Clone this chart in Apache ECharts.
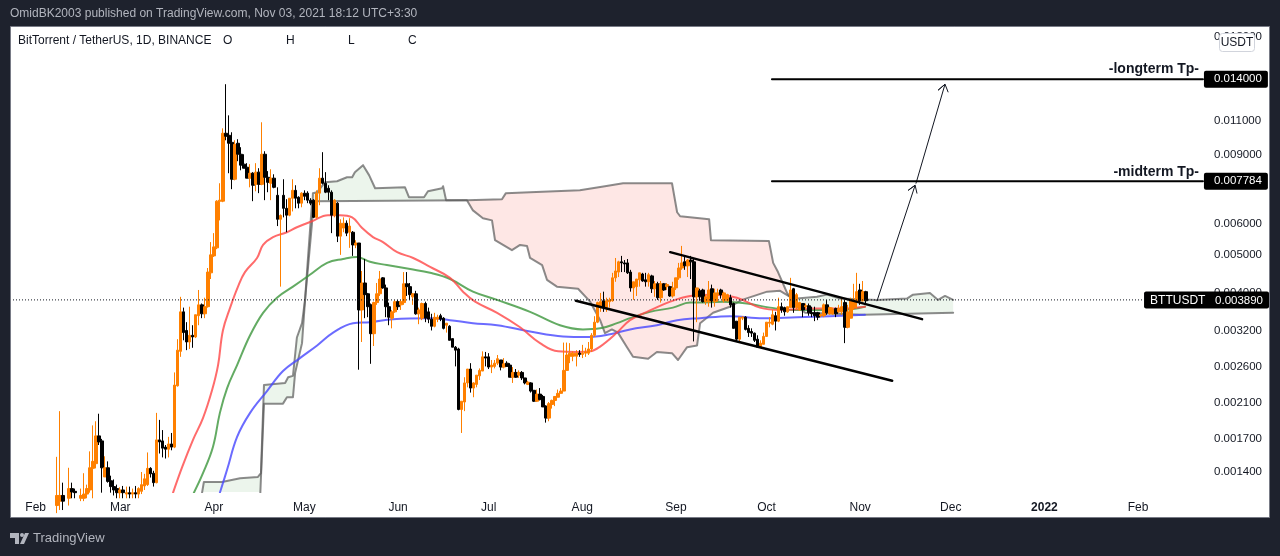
<!DOCTYPE html>
<html>
<head>
<meta charset="utf-8">
<title>BTTUSDT</title>
<script src="https://cdn.jsdelivr.net/npm/echarts@6/dist/echarts.min.js"></script>
<style>
  html, body { margin: 0; padding: 0; background: #1e222d; }
  #main { width: 1280px; height: 556px; }
</style>
</head>
<body>
<div id="main"></div>
<script>
// all prices below are in thousandths of a USDT (5.14 = 0.005140)
var firstCandle = 14; // candles start on 8 Feb 2021, category index 14
var opens = [
  1.15,1.18,1.22,1.18,1.2,1.27,1.25,1.2,1.2,1.2,
  1.23,1.26,1.43,1.47,1.73,1.68,1.36,1.435,1.33,1.285,
  1.27,1.24,1.26,1.23,1.24,1.23,1.24,1.23,1.25,1.29,
  1.30,1.43,1.39,1.315,1.69,1.68,1.62,1.60,1.65,1.62,
  2.32,2.84,3.58,3.21,3.00,3.12,3.09,3.50,3.73,3.54,
  3.69,4.50,4.97,5.21,6.85,6.85,10.2,10.08,9.67,7.79,
  9.62,9.02,8.51,8.36,7.84,8.07,7.56,8.12,7.56,9.02,
  7.88,7.61,7.84,7.09,6.16,7.09,6.57,6.31,6.97,7.30,
  7.01,6.77,7.18,7.18,6.89,6.89,6.23,7.18,7.84,7.61,
  7.39,7.22,6.31,6.77,5.58,5.85,6.02,5.71,5.71,5.30,
  5.36,3.62,4.24,3.98,3.73,3.15,3.78,3.98,4.37,4.12,
  3.69,3.45,3.58,3.80,3.73,3.78,4.22,4.15,3.91,3.98,
  3.54,3.45,3.76,3.58,3.43,3.29,3.43,3.50,3.45,3.31,
  3.29,3.06,2.91,2.88,2.02,2.11,2.36,2.56,2.29,2.34,
  2.46,2.53,2.75,2.75,2.59,2.60,2.65,2.70,2.59,2.65,
  2.62,2.44,2.51,2.47,2.51,2.43,2.34,2.36,2.26,2.12,
  2.21,2.18,2.06,1.92,2.08,2.13,2.17,2.22,2.25,2.54,
  2.76,2.76,2.76,2.81,2.79,2.81,2.81,2.88,3.12,3.37,
  3.67,3.82,3.67,3.80,3.82,4.37,4.52,4.80,4.77,4.77,
  4.52,4.12,4.15,4.32,4.47,4.32,4.27,4.42,4.10,4.22,
  3.89,4.22,4.15,4.15,3.93,4.12,4.37,4.63,4.80,4.69,
  4.85,4.80,3.91,4.05,4.07,3.80,3.80,4.10,3.80,3.96,
  4.07,3.82,3.82,3.89,3.76,3.39,3.05,3.45,3.47,3.25,
  3.19,3.16,3.05,2.91,2.96,3.10,3.35,3.33,3.50,3.39,
  3.69,3.67,3.58,3.67,4.10,3.67,3.62,3.76,3.69,3.71,
  3.56,3.56,3.56,3.50,3.50,3.73,3.54,3.54,3.65,3.58,
  3.58,3.78,3.27,3.45,3.67,3.80,4.07,3.82,4.03
];
var closes = [
  1.22,1.22,1.18,1.2,1.27,1.245,1.24,1.21,1.22,1.23,
  1.27,1.435,1.49,1.73,1.67,1.435,1.435,1.325,1.285,1.26,
  1.24,1.26,1.24,1.24,1.23,1.24,1.23,1.27,1.30,1.345,
  1.43,1.385,1.315,1.69,1.67,1.61,1.60,1.65,1.62,2.33,
  2.86,3.58,3.17,3.00,3.12,3.09,3.52,3.73,3.54,3.69,
  4.52,5.00,5.24,6.85,6.89,10.2,10.02,9.62,7.79,9.56,
  9.02,8.46,8.31,7.84,8.07,7.52,8.12,7.56,9.02,7.88,
  7.65,7.84,7.43,6.16,6.30,6.57,6.31,6.97,7.30,6.97,
  6.77,7.18,7.05,6.89,6.77,6.23,7.18,7.84,7.61,7.22,
  7.22,6.31,6.89,5.58,6.02,6.02,5.68,5.92,5.30,5.36,
  3.62,4.24,3.96,3.69,3.15,3.78,3.98,4.34,4.12,3.69,
  3.47,3.58,3.80,3.69,3.80,4.22,4.15,3.96,3.98,3.54,
  3.62,3.76,3.45,3.43,3.29,3.47,3.47,3.43,3.25,3.35,
  3.03,2.91,2.86,2.02,2.12,2.36,2.56,2.29,2.36,2.47,
  2.54,2.75,2.73,2.59,2.62,2.65,2.72,2.59,2.64,2.60,
  2.44,2.51,2.44,2.51,2.43,2.36,2.37,2.25,2.12,2.21,
  2.14,2.05,1.92,2.09,2.13,2.18,2.22,2.25,2.54,2.78,
  2.81,2.81,2.81,2.79,2.81,2.83,2.88,3.12,3.37,3.78,
  3.80,3.67,3.82,3.84,4.37,4.55,4.80,4.77,4.74,4.50,
  4.12,4.27,4.34,4.50,4.29,4.27,4.45,4.10,4.22,3.89,
  4.22,4.07,4.20,3.93,4.12,4.37,4.63,4.77,4.69,4.85,
  4.80,3.91,4.12,3.91,3.80,3.91,4.07,3.82,4.00,4.00,
  3.96,4.00,3.96,3.73,3.25,3.05,3.47,3.47,3.23,3.17,
  3.16,3.03,2.91,2.98,3.10,3.37,3.37,3.52,3.39,3.69,
  3.62,3.58,3.69,4.07,3.67,3.96,3.78,3.62,3.71,3.56,
  3.54,3.50,3.47,3.52,3.73,3.56,3.67,3.62,3.54,3.65,
  3.69,3.27,3.58,3.82,3.84,4.03,3.82,4.03,3.82
];
var lows = [
  1.10,1.12,1.12,1.14,1.15,1.2,1.2,1.15,1.18,1.18,
  1.2,1.24,1.2,1.43,1.64,1.24,1.36,1.315,1.24,1.22,
  1.2,1.2,1.2,1.2,1.2,1.2,1.2,1.2,1.23,1.26,
  1.29,1.355,1.285,1.31,1.56,1.525,1.515,1.525,1.59,1.61,
  2.31,2.75,3.03,2.86,2.88,2.90,3.07,3.31,3.45,3.45,
  3.67,4.34,4.94,5.17,6.12,6.81,9.79,8.07,7.35,7.74,
  8.66,8.21,8.31,7.84,7.43,6.85,7.26,7.18,7.52,6.89,
  7.22,6.89,7.39,5.92,4.15,6.23,5.71,6.27,6.45,6.57,
  6.57,6.61,6.89,6.77,6.69,6.2,6.2,6.69,7.56,7.18,
  6.89,5.68,6.23,5.39,5.00,5.71,5.58,5.21,4.97,5.20,
  2.55,3.00,3.45,3.47,2.64,2.93,3.73,3.93,4.10,3.47,
  3.31,3.25,3.56,3.62,3.62,3.73,3.93,3.84,3.73,3.52,
  3.33,3.41,3.37,3.35,3.21,3.27,3.37,3.39,3.23,3.17,
  3.03,2.91,2.60,2.01,1.76,2.00,2.30,2.23,2.17,2.30,
  2.40,2.53,2.60,2.56,2.50,2.57,2.62,2.54,2.57,2.60,
  2.44,2.36,2.43,2.43,2.40,2.34,2.33,2.23,2.11,2.11,
  2.13,2.05,1.87,1.885,2.03,2.06,2.17,2.22,2.25,2.54,
  2.65,2.68,2.60,2.75,2.73,2.75,2.78,2.83,3.09,3.35,
  3.58,3.58,3.58,3.67,3.80,4.27,4.39,4.52,4.52,4.47,
  4.03,3.84,3.93,4.15,4.27,4.15,4.15,4.00,3.91,3.84,
  3.78,4.05,4.07,3.91,3.89,4.07,4.32,4.58,4.58,4.39,
  4.34,3.01,3.37,3.82,3.78,3.73,3.69,3.67,3.69,3.80,
  3.87,3.78,3.80,3.67,3.25,3.00,3.00,3.41,3.21,3.09,
  3.09,3.00,2.90,2.90,2.96,3.09,3.27,3.31,3.21,3.37,
  3.56,3.50,3.56,3.67,3.56,3.62,3.60,3.47,3.65,3.50,
  3.47,3.39,3.41,3.47,3.47,3.52,3.52,3.52,3.47,3.56,
  3.52,2.98,3.25,3.45,3.62,3.65,3.73,3.80,3.76
];
var highs = [
  1.53,2.00,1.315,1.22,1.435,1.315,1.27,1.23,1.27,1.39,
  1.30,1.58,1.84,1.885,1.97,1.70,1.535,1.49,1.37,1.34,
  1.30,1.28,1.29,1.285,1.285,1.27,1.29,1.28,1.40,1.385,
  1.57,1.44,1.41,1.98,1.90,1.79,1.64,1.72,1.76,2.51,
  3.05,3.91,3.67,3.37,3.69,3.31,3.52,4.07,3.76,3.89,
  4.63,5.39,5.68,6.89,7.61,10.5,13.6,11.33,10.26,9.79,
  9.85,9.40,9.02,8.56,8.51,8.12,8.56,8.31,10.88,9.18,
  8.17,8.26,8.02,7.43,6.34,7.79,6.93,6.97,7.79,7.52,
  7.05,7.22,7.30,7.26,6.97,6.93,7.30,8.31,9.13,8.12,
  7.52,7.30,6.93,6.81,6.16,6.23,6.12,6.2,5.75,5.45,
  5.36,4.55,4.88,4.00,3.76,3.80,4.24,4.55,4.39,4.20,
  3.78,3.62,3.84,3.84,3.84,4.52,4.52,4.24,4.00,4.05,
  3.67,3.78,3.80,3.67,3.54,3.56,3.52,3.54,3.47,3.35,
  3.31,3.06,2.93,2.90,2.12,2.44,2.56,2.65,2.37,2.47,
  2.57,2.84,2.83,2.81,2.70,2.70,2.78,2.70,2.73,2.68,
  2.65,2.59,2.56,2.54,2.53,2.43,2.39,2.37,2.26,2.27,
  2.29,2.20,2.07,2.11,2.14,2.18,2.27,2.29,2.99,2.99,
  2.98,2.84,2.86,2.86,2.95,2.90,3.00,3.16,3.49,3.80,
  4.00,4.03,3.89,3.89,4.50,4.91,4.83,4.97,4.85,4.88,
  4.58,4.27,4.34,4.50,4.50,4.50,4.50,4.45,4.29,4.27,
  4.29,4.24,4.24,4.17,4.27,4.37,4.77,5.27,4.97,4.88,
  4.97,4.88,4.12,4.10,4.10,3.96,4.29,4.20,4.10,4.10,
  4.10,4.03,3.98,3.96,3.78,3.39,3.47,3.49,3.49,3.31,
  3.25,3.17,3.12,3.03,3.17,3.37,3.47,3.62,3.58,3.89,
  3.78,3.69,3.69,4.37,4.12,4.00,3.80,3.76,3.76,3.76,
  3.69,3.69,3.58,3.54,3.76,3.84,3.69,3.67,3.67,3.73,
  3.89,3.84,3.73,3.89,4.22,4.50,4.22,4.29,4.05
];

// moving averages: [day index, price]
var maRed = [[52.5,1.24],[55.5,1.44],[59.1,1.69],[62.4,1.92],[65.4,2.26],[67.4,2.62],[69,3.21],[71.4,3.67],[74,4.15],[76.3,4.52],[80.3,4.91],[82.3,5.30],[85.6,5.55],[90.2,5.71],[93.5,5.88],[98.5,6.09],[103.8,6.31],[107.8,6.31],[111.8,6.23],[115.1,5.85],[118.7,5.55],[122,5.39],[126.7,5.08],[132,4.91],[137.6,4.66],[144.2,4.37],[148.5,4.03],[152.5,3.80],[159.8,3.56],[167.4,3.27],[174,2.98],[180,2.84],[186.3,2.83],[190.6,2.84],[193.9,2.92],[199.5,3.17],[203.8,3.41],[209.4,3.58],[217.1,3.80],[223.7,3.93],[231.3,3.96],[239.2,3.89],[246.8,3.67],[253.5,3.62],[264.4,3.65],[273.3,3.65],[281.6,3.69]];
var maGreen = [[59.4,1.24],[62.4,1.39],[65.7,1.62],[68,1.98],[70.4,2.29],[73.7,2.62],[78,3.12],[82.3,3.56],[86.9,3.89],[92.2,4.15],[97.8,4.45],[103.5,4.77],[108.8,4.88],[113.4,4.94],[117.7,4.80],[123.3,4.71],[131,4.60],[137.6,4.50],[144.2,4.34],[151.8,4.03],[159.8,3.84],[170.7,3.58],[180.6,3.31],[188.2,3.23],[193.9,3.25],[199.5,3.35],[203.8,3.45],[210.4,3.58],[218,3.67],[223.7,3.78],[226,3.78],[234.6,3.80],[242.5,3.76],[250.2,3.67],[257.8,3.62],[266.7,3.62],[273.3,3.62],[281.6,3.69]];
var maBlue = [[68,1.24],[70.4,1.42],[73.7,1.72],[78,1.98],[83.6,2.25],[88.9,2.53],[94.5,2.73],[100.2,2.94],[105.5,3.17],[112.1,3.35],[117.7,3.37],[125.3,3.43],[137.6,3.45],[144.2,3.41],[151.8,3.35],[159.8,3.31],[170.7,3.19],[181.6,3.10],[189.6,3.09],[197.2,3.14],[203.8,3.23],[212.7,3.31],[219.4,3.41],[227,3.45],[236.9,3.49],[247.8,3.45],[259.1,3.47],[270,3.49],[281.6,3.52]];

// ichimoku cloud spans: [day index, price]
var spanA = [[62.1,1.24],[62.7,1.32],[68.7,1.32],[74.7,1.35],[80.6,1.36],[81.6,1.39],[82.6,2.33],[89.6,2.36],[90.6,2.44],[92.2,2.46],[93.5,3.08],[95.2,3.35],[96.2,3.84],[97.2,4.66],[98.5,6.02],[98.8,7.18],[100.2,7.22],[102.8,7.65],[106.8,7.70],[110.1,7.88],[111.8,7.88],[112.7,8.12],[115.4,8.46],[117.4,7.98],[119.4,7.39],[129.3,7.43],[130.6,7.01],[135.6,7.01],[136.9,7.26],[141.6,7.39],[141.9,7.48],[142.9,6.89],[149.8,6.89],[150.2,6.81],[151.8,6.49],[155.1,6.20],[158.1,6.12],[159.1,5.45],[164.7,5.14],[167.4,5.30],[169.7,5.27],[170.7,4.91],[174.7,4.71],[176.3,4.32],[179.6,4.15],[186.6,4.10],[190.6,3.80],[193.9,3.41],[195.5,3.16],[197.8,3.23],[199.8,3.17],[202.8,2.91],[204.8,2.75],[209.8,2.72],[212.7,2.83],[217.7,2.81],[219.7,2.70],[222.7,2.91],[226,2.94],[227,3.35],[231.3,3.56],[236.9,3.69],[240.9,3.84],[249.2,4.03],[253.5,4.05],[256.8,3.91],[259.1,3.87],[265.7,3.91],[269,3.96],[273.3,3.87],[285.6,3.84],[295.5,3.87],[297.5,3.96],[303.1,4.00],[305.8,3.84],[308.1,3.93],[310.8,3.84]];
var spanB = [[62.1,1.19],[81.3,1.19],[82.6,2.09],[88.9,2.09],[90.2,2.17],[92.2,2.17],[92.9,2.50],[95.2,2.98],[96.2,3.84],[97.2,4.94],[98.5,6.77],[99.5,6.85],[149.8,6.89],[161.4,6.93],[162.7,7.18],[170.7,7.22],[187.2,7.30],[195.5,7.48],[201.5,7.61],[217.7,7.61],[219.4,6.42],[220.4,6.27],[230,6.16],[230.6,5.45],[249.8,5.42],[251.2,4.77],[252.8,4.52],[255.8,4.00],[256.8,3.91],[259.1,3.69],[261.8,3.56],[281,3.52],[310.8,3.56]];
var cloudCrossings = [62.1, 149.8, 256.8, 310.8];

// drawings on the chart
var upperTrend = [[217.1,5.08],[300.5,3.43]];
var lowerTrend = [[185.9,3.82],[290.6,2.39]];
var arrowOne = [[285.6,3.82],[298.2,7.52],[295.9,7.30],[298.2,7.52],[298.8,7.18]];
var arrowTwo = [[298.5,7.61],[308.1,13.6],[305.8,13.13],[308.1,13.6],[309.1,13.0]];
var longTarget = [[250.8,14.0],[393.5,14.0]];
var midTarget = [[250.8,7.70],[393.5,7.70]];
var lastPriceLine = [[-0.5,3.84],[374,3.84]];

var yTicks = [18, 11, 9, 7.5, 6, 5, 4, 3.2, 2.6, 2.1, 1.7, 1.4];

// one category per day, 25 Jan 2021 to 25 Feb 2022
var categories = [];
for (var d = 0; d < 397; d++) {
    categories.push(new Date(Date.UTC(2021, 0, 25 + d)).toISOString().slice(0, 10));
}
var monthNames = ['Jan','Feb','Mar','Apr','May','Jun','Jul','Aug','Sep','Oct','Nov','Dec'];

function toPrice(pairs) {
    return pairs.map(function (p) { return [p[0], p[1] / 1000]; });
}

var candles = categories.map(function (c, i) {
    var k = i - firstCandle;
    if (k < 0 || k >= opens.length) return '-';
    return [opens[k] / 1000, closes[k] / 1000, lows[k] / 1000, highs[k] / 1000];
});

function lineSeries(name, pairs, color, width, extra) {
    var s = {
        name: name,
        type: 'line',
        xAxisIndex: 1,
        yAxisIndex: 0,
        data: toPrice(pairs),
        showSymbol: false,
        symbol: 'none',
        silent: true,
        lineStyle: { color: color, width: width, cap: 'round', join: 'round' },
        z: 3
    };
    for (var k in extra) s[k] = extra[k];
    return s;
}

// fill between the two spans, one polygon for each stretch between crossings
function cloudSeries() {
    var colors = ['rgba(67,160,71,0.10)', 'rgba(244,67,54,0.13)', 'rgba(67,160,71,0.10)'];
    return {
        type: 'custom',
        xAxisIndex: 1,
        yAxisIndex: 0,
        clip: true,
        silent: true,
        z: 1,
        data: [[0, 0.002], [1, 0.002], [2, 0.002]],
        encode: { x: 0, y: 1 },
        renderItem: function (params, api) {
            var n = params.dataIndex;
            var from = cloudCrossings[n], to = cloudCrossings[n + 1];
            var inside = function (p) { return p[0] >= from && p[0] <= to; };
            var pts = spanA.filter(inside).concat(spanB.filter(inside).reverse());
            return {
                type: 'polygon',
                shape: { points: pts.map(function (p) { return api.coord([p[0], p[1] / 1000]); }) },
                style: { fill: colors[n] }
            };
        }
    };
}

function endBox(text) {
    return {
        show: true,
        formatter: text,
        color: '#fff',
        backgroundColor: '#000',
        borderRadius: 2,
        padding: [3, 6, 2, 10],
        distance: 1,
        fontFamily: 'Liberation Sans',
        fontSize: 11.5
    };
}

var myChart = echarts.init(document.getElementById('main'));
var chromeColor = '#b2b5be';
var headFont = '12px "Liberation Sans"';
var option = {
    animation: false,
    backgroundColor: '#1e222d',
    textStyle: { fontFamily: 'Liberation Sans' },
    grid: { left: 13, width: 1199, top: 27, height: 465 },
    xAxis: [{
        type: 'category',
        data: categories,
        axisLine: { show: false },
        axisTick: { show: false },
        splitLine: { show: false },
        axisLabel: {
            interval: function (i, v) { return v.slice(8) === '01'; },
            hideOverlap: false,
            margin: 10,
            color: '#131722',
            fontSize: 12,
            formatter: function (v) {
                var m = +v.slice(5, 7) - 1;
                return m === 0 ? '{y|' + v.slice(0, 4) + '}' : monthNames[m];
            },
            rich: { y: { fontWeight: 'bold', fontSize: 12, color: '#131722' } }
        }
    }, {
        type: 'value',
        min: -0.5,
        max: 396.5,
        show: false
    }],
    yAxis: [{
        type: 'log',
        logBase: 10,
        min: 0.001245,
        max: 0.01902,
        position: 'right',
        axisLine: { show: false },
        axisTick: { show: false },
        splitLine: { show: false },
        axisLabel: {
            customValues: yTicks.map(function (v) { return v / 1000; }),
            margin: 2,
            color: '#131722',
            fontSize: 11.5,
            formatter: function (v) { return (+v).toFixed(6); }
        }
    }],
    series: [
        cloudSeries(),
        lineSeries('Span A', spanA, 'rgba(90,90,90,0.7)', 2),
        lineSeries('Span B', spanB, 'rgba(90,90,90,0.7)', 2),
        lineSeries('MA slow', maBlue, 'rgba(70,70,255,0.8)', 2, { smooth: 0.4 }),
        lineSeries('MA mid', maGreen, 'rgba(60,150,60,0.8)', 2, { smooth: 0.4 }),
        lineSeries('MA fast', maRed, 'rgba(255,70,70,0.8)', 2, { smooth: 0.4 }),
        {
            name: 'BTTUSDT',
            type: 'candlestick',
            xAxisIndex: 0,
            yAxisIndex: 0,
            data: candles,
            barWidth: 3,
            silent: true,
            z: 4,
            itemStyle: {
                color: '#ff8000',
                color0: '#000',
                borderColor: '#ff8000',
                borderColor0: '#000',
                borderWidth: 1
            }
        },
        lineSeries('Upper trend', upperTrend, '#000', 2.5, { z: 5 }),
        lineSeries('Lower trend', lowerTrend, '#000', 2.5, { z: 5 }),
        lineSeries('Arrow 1', arrowOne, '#131722', 1, { z: 5 }),
        lineSeries('Arrow 2', arrowTwo, '#131722', 1, { z: 5 }),
        lineSeries('Longterm', longTarget, '#000', 2, { z: 5, endLabel: endBox('0.014000') }),
        lineSeries('Midterm', midTarget, '#000', 2, { z: 5, endLabel: endBox('0.007784') }),
        lineSeries('Last price', lastPriceLine, '#131722', 1, {
            z: 5,
            lineStyle: { color: '#131722', width: 1, type: [1, 2] },
            endLabel: {
                show: true,
                distance: 0,
                formatter: '{n|BTTUSDT}{p|0.003890}',
                backgroundColor: '#000',
                borderRadius: 2,
                padding: [3, 6, 2, 6],
                rich: {
                    n: { color: '#fff', fontSize: 12, fontFamily: 'Liberation Sans', width: 65 },
                    p: { color: '#fff', fontSize: 11.5, fontFamily: 'Liberation Sans' }
                }
            }
        })
    ],
    graphic: { elements: [
        { type: 'rect', z: -1, silent: true, shape: { x: 10.5, y: 26.5, width: 1259, height: 491 },
          style: { fill: '#fff', stroke: '#787b86', lineWidth: 1 } },
        { type: 'text', x: 10, y: 14, silent: true,
          style: { text: 'OmidBK2003 published on TradingView.com, Nov 03, 2021 18:12 UTC+3:30', fill: chromeColor, font: headFont, verticalAlign: 'middle' } },
        { type: 'text', x: 18, y: 41, z: 10, silent: true,
          style: { text: 'BitTorrent / TetherUS, 1D, BINANCE', fill: '#131722', font: headFont, verticalAlign: 'middle' } },
        { type: 'text', x: 223, y: 41, z: 10, silent: true, style: { text: 'O', fill: '#131722', font: headFont, verticalAlign: 'middle' } },
        { type: 'text', x: 286, y: 41, z: 10, silent: true, style: { text: 'H', fill: '#131722', font: headFont, verticalAlign: 'middle' } },
        { type: 'text', x: 348, y: 41, z: 10, silent: true, style: { text: 'L', fill: '#131722', font: headFont, verticalAlign: 'middle' } },
        { type: 'text', x: 408, y: 41, z: 10, silent: true, style: { text: 'C', fill: '#131722', font: headFont, verticalAlign: 'middle' } },
        { type: 'text', x: 1199, y: 69, z: 10, silent: true,
          style: { text: '-longterm Tp-', fill: '#131722', font: 'bold 14px "Liberation Sans"', align: 'right', verticalAlign: 'middle' } },
        { type: 'text', x: 1199, y: 172, z: 10, silent: true,
          style: { text: '-midterm Tp-', fill: '#131722', font: 'bold 14px "Liberation Sans"', align: 'right', verticalAlign: 'middle' } },
        { type: 'rect', z: 20, silent: true, shape: { x: 1219.5, y: 33.5, width: 35, height: 18, r: 3 },
          style: { fill: '#fff', stroke: '#d1d4dc', lineWidth: 1 } },
        { type: 'text', x: 1237, y: 42.5, z: 21, silent: true,
          style: { text: 'USDT', fill: '#131722', font: '12px "Liberation Sans"', align: 'center', verticalAlign: 'middle' } },
        // TradingView mark and name in the footer
        { type: 'polygon', silent: true, shape: { points: [[10,533],[19,533],[19,544],[15,544],[15,538],[10,538]] }, style: { fill: chromeColor } },
        { type: 'circle', silent: true, shape: { cx: 22, cy: 535, r: 2 }, style: { fill: chromeColor } },
        { type: 'polygon', silent: true, shape: { points: [[25,533],[29,533],[24,544],[20,544]] }, style: { fill: chromeColor } },
        { type: 'text', x: 33, y: 538, silent: true,
          style: { text: 'TradingView', fill: chromeColor, font: '13px "Liberation Sans"', verticalAlign: 'middle' } }
    ] }
};

option && myChart.setOption(option);
</script>
</body>
</html>
